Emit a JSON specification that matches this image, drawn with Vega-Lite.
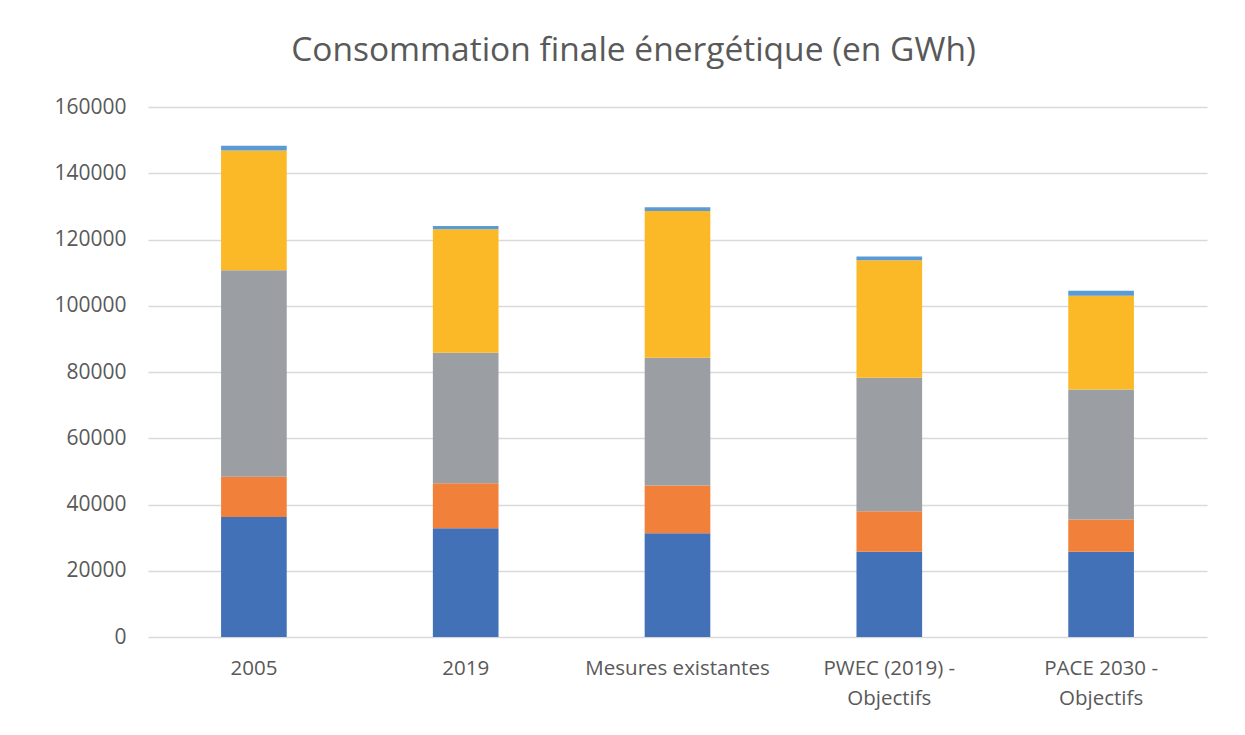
{
  "$schema": "https://vega.github.io/schema/vega-lite/v6.json",
  "width": 1059,
  "height": 530,
  "autosize": {"type": "none"},
  "padding": {"left": 148, "top": 107, "right": 38, "bottom": 98},
  "background": "#ffffff",
  "title": {
    "text": "Consommation finale énergétique (en GWh)",
    "font": "Open Sans",
    "fontSize": 33.5,
    "fontWeight": "normal",
    "color": "#595959",
    "anchor": "middle",
    "dx": -44,
    "offset": 28
  },
  "data": {
    "values": [
      {"categorie": "2005", "serie": "Série 1", "valeur": 36200},
      {"categorie": "2005", "serie": "Série 2", "valeur": 12200},
      {"categorie": "2005", "serie": "Série 3", "valeur": 62300},
      {"categorie": "2005", "serie": "Série 4", "valeur": 36200},
      {"categorie": "2005", "serie": "Série 5", "valeur": 1400},
      {"categorie": "2019", "serie": "Série 1", "valeur": 32800},
      {"categorie": "2019", "serie": "Série 2", "valeur": 13600},
      {"categorie": "2019", "serie": "Série 3", "valeur": 39400},
      {"categorie": "2019", "serie": "Série 4", "valeur": 37300},
      {"categorie": "2019", "serie": "Série 5", "valeur": 1000},
      {"categorie": "Mesures existantes", "serie": "Série 1", "valeur": 31300},
      {"categorie": "Mesures existantes", "serie": "Série 2", "valeur": 14400},
      {"categorie": "Mesures existantes", "serie": "Série 3", "valeur": 38600},
      {"categorie": "Mesures existantes", "serie": "Série 4", "valeur": 44300},
      {"categorie": "Mesures existantes", "serie": "Série 5", "valeur": 1100},
      {"categorie": "PWEC (2019) - Objectifs", "serie": "Série 1", "valeur": 25700},
      {"categorie": "PWEC (2019) - Objectifs", "serie": "Série 2", "valeur": 12300},
      {"categorie": "PWEC (2019) - Objectifs", "serie": "Série 3", "valeur": 40300},
      {"categorie": "PWEC (2019) - Objectifs", "serie": "Série 4", "valeur": 35400},
      {"categorie": "PWEC (2019) - Objectifs", "serie": "Série 5", "valeur": 1200},
      {"categorie": "PACE 2030 - Objectifs", "serie": "Série 1", "valeur": 25700},
      {"categorie": "PACE 2030 - Objectifs", "serie": "Série 2", "valeur": 9800},
      {"categorie": "PACE 2030 - Objectifs", "serie": "Série 3", "valeur": 39200},
      {"categorie": "PACE 2030 - Objectifs", "serie": "Série 4", "valeur": 28300},
      {"categorie": "PACE 2030 - Objectifs", "serie": "Série 5", "valeur": 1500}
    ]
  },
  "mark": {"type": "bar"},
  "encoding": {
    "x": {
      "field": "categorie",
      "type": "nominal",
      "sort": null,
      "scale": {"paddingInner": 0.69, "paddingOuter": 0.345},
      "axis": {
        "title": null,
        "labelAngle": 0,
        "domain": false,
        "ticks": false,
        "labelPadding": 21,
        "labelFont": "Open Sans",
        "labelFontSize": 20.5,
        "labelColor": "#595959",
        "labelLineHeight": 30,
        "labelLimit": 400,
        "labelOverlap": false,
        "labelExpr": "indexof(datum.label, ' - ') > 0 ? [slice(datum.label, 0, indexof(datum.label, ' - ')) + ' -', slice(datum.label, indexof(datum.label, ' - ') + 3)] : datum.label"
      }
    },
    "y": {
      "field": "valeur",
      "type": "quantitative",
      "aggregate": "sum",
      "stack": "zero",
      "scale": {"domain": [0, 160000], "nice": false},
      "axis": {
        "title": null,
        "values": [0, 20000, 40000, 60000, 80000, 100000, 120000, 140000, 160000],
        "format": "d",
        "domain": false,
        "ticks": false,
        "labelPadding": 22,
        "labelFont": "Open Sans",
        "labelFontSize": 21,
        "labelColor": "#595959",
        "gridColor": "#d9d9d9",
        "gridWidth": 1.5
      }
    },
    "color": {
      "field": "serie",
      "type": "nominal",
      "sort": ["Série 1", "Série 2", "Série 3", "Série 4", "Série 5"],
      "scale": {
        "domain": ["Série 1", "Série 2", "Série 3", "Série 4", "Série 5"],
        "range": ["#4271b7", "#f1803b", "#9b9ea2", "#fcb927", "#5b9bd5"]
      },
      "legend": null
    },
    "order": {"field": "serie", "sort": "ascending"}
  },
  "config": {"view": {"stroke": null}}
}
